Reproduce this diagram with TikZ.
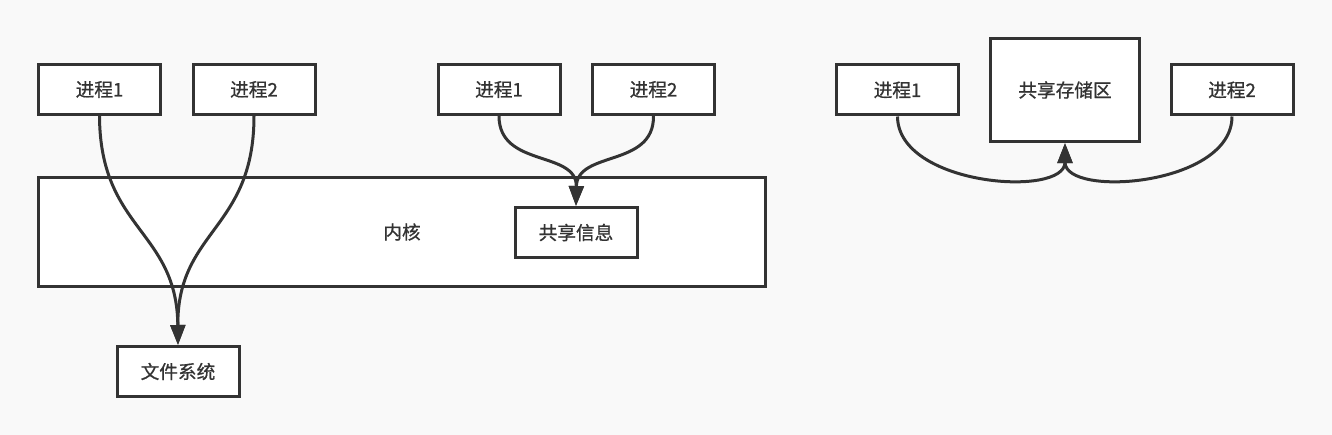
\documentclass[tikz,border=0pt]{standalone}
\usepackage{fontspec}
\newfontfamily\cjk[FakeBold=0.8]{Noto Sans CJK SC}
\usetikzlibrary{arrows.meta}
\definecolor{ink}{HTML}{333333}
\definecolor{bg}{HTML}{F9F9F9}
\begin{document}
\begin{tikzpicture}[x=0.75pt,y=-0.75pt,
  box/.style={draw=ink, fill=white, line width=2.25pt, inner sep=0pt,
    minimum width=91.5pt, minimum height=37.5pt, text=ink,
    font=\cjk\fontsize{14}{16}\selectfont\addfontfeature{FakeBold=0.8}},
  link/.style={draw=ink, line width=2.25pt, -{Triangle[length=15pt,width=11pt]}}
]
\fill[bg] (0,0) rectangle (1332,435);
\useasboundingbox (0,0) rectangle (1332,435);
% left group
\node[box, minimum width=545.25pt, minimum height=81.75pt] (kern) at (402,232) {内核};
\node[box] (lp1) at (99.5,89.5) {进程1};
\node[box] (lp2) at (254,89.5) {进程2};
\node[box] (fs) at (178,371.5) {文件系统};
% middle group
\node[box] (mp1) at (499,89.5) {进程1};
\node[box] (mp2) at (653.5,89.5) {进程2};
\node[box] (info) at (576,232.5) {共享信息};
% right group
\node[box] (rp1) at (897.5,90) {进程1};
\node[box, minimum width=111.75pt, minimum height=77.25pt] (store) at (1065,90) {共享存储区};
\node[box] (rp2) at (1232,90) {进程2};
% connectors
\draw[link] (lp1.south) .. controls (100,230) and (177,230) .. (fs.north);
\draw[link] (lp2.south) .. controls (254,230) and (177,230) .. (fs.north);
\draw[link] (mp1.south) .. controls (499,168) and (577,150) .. (info.north);
\draw[link] (mp2.south) .. controls (654,168) and (577,150) .. (info.north);
\draw[link] (rp1.south) .. controls (898,186) and (1065,198) .. (store.south);
\draw[link] (rp2.south) .. controls (1232,186) and (1065,198) .. (store.south);
\end{tikzpicture}
\end{document}
